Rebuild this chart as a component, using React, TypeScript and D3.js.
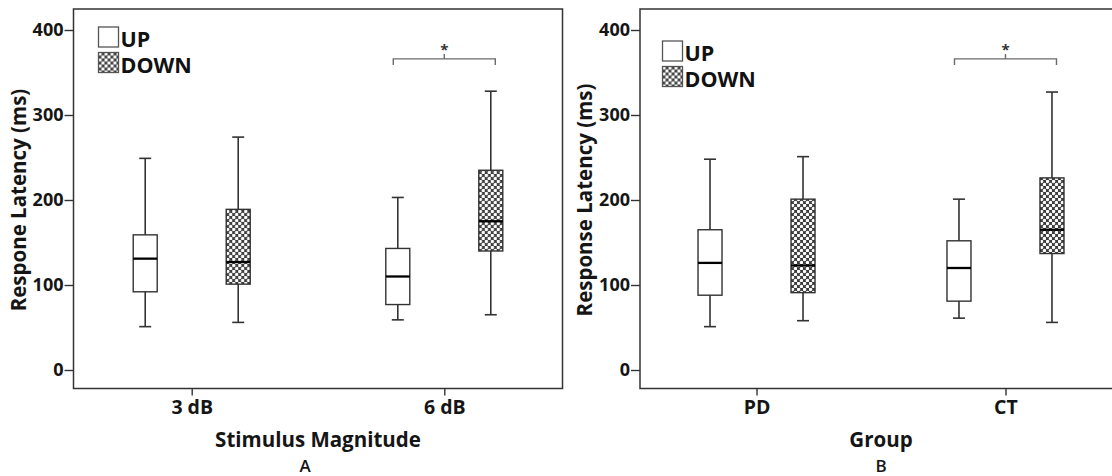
import React, { useEffect, useRef } from "react"
import * as d3 from "d3"

// [category, group, low whisker, Q1, median, Q3, high whisker]
const groups = ["UP", "DOWN"]
const categoriesA = ["3 dB", "6 dB"]
const statsA = [
  ["3 dB", "UP", 51, 92, 131, 159, 249],
  ["3 dB", "DOWN", 56, 101, 127, 189, 274],
  ["6 dB", "UP", 59, 77, 110, 143, 203],
  ["6 dB", "DOWN", 65, 140, 175, 235, 328],
]
const categoriesB = ["PD", "CT"]
const statsB = [
  ["PD", "UP", 51, 88, 126, 165, 248],
  ["PD", "DOWN", 58, 91, 123, 201, 251],
  ["CT", "UP", 61, 81, 120, 152, 201],
  ["CT", "DOWN", 56, 137, 165, 226, 327],
]
const yTicks = [0, 100, 200, 300, 400]
const significantA = "6 dB"
const significantB = "CT"

const FONT = "'Open Sans', sans-serif"
const INK = "#151515"
const LINE = "#333"

function drawPanel(svg, {
  left, // frame left
  width, // frame width
  categories,
  stats,
  significant,
  yLabel,
  xLabel,
  letter,
  letterX,
  legendX,
  legendY,
}) {
  const top = 9
  const bottom = 388.5
  const y = d3.scaleLinear().domain([0, 400]).range([370, 30])
  const x = d3.scalePoint().domain(categories).range([left, left + width]).padding(0.468)
  const sub = d3.scalePoint().domain(groups).range([-46.5, 46.5])
  const boxW = 24

  const g = svg.append("g")

  // frame
  g.append("rect")
    .attr("x", left).attr("y", top)
    .attr("width", width).attr("height", bottom - top)
    .attr("fill", "none").attr("stroke", LINE).attr("stroke-width", 1.5)

  // y axis
  g.append("g")
    .attr("transform", `translate(${left},0)`)
    .call(d3.axisLeft(y).tickValues(yTicks).tickSize(9).tickPadding(1))
    .call(a => a.select(".domain").remove())
    .call(a => a.selectAll(".tick line").attr("stroke", LINE).attr("stroke-width", 1.4))
    .call(a => a.selectAll(".tick text")
      .attr("font-family", FONT).attr("font-weight", 700)
      .attr("font-size", 18).attr("fill", INK))

  // x axis
  g.append("g")
    .attr("transform", `translate(0,${bottom})`)
    .call(d3.axisBottom(x).tickSize(7).tickPadding(5))
    .call(a => a.select(".domain").remove())
    .call(a => a.selectAll(".tick line").attr("stroke", LINE).attr("stroke-width", 1.4))
    .call(a => a.selectAll(".tick text")
      .attr("font-family", FONT).attr("font-weight", 700)
      .attr("font-size", 19.5).attr("fill", INK))

  // axis titles
  g.append("text")
    .attr("transform", `translate(${left - 55},${(y(0) + y(400)) / 2}) rotate(-90)`)
    .attr("text-anchor", "middle")
    .attr("dy", "0.35em")
    .attr("font-family", FONT).attr("font-weight", 700).attr("font-size", 20.5)
    .attr("fill", INK)
    .text(yLabel)

  const mid = (x(categories[0]) + x(categories[1])) / 2
  g.append("text")
    .attr("x", mid).attr("y", 447)
    .attr("text-anchor", "middle")
    .attr("font-family", FONT).attr("font-weight", 700).attr("font-size", 20.5)
    .attr("fill", INK)
    .text(xLabel)

  g.append("text")
    .attr("x", letterX).attr("y", 471.5)
    .attr("text-anchor", "middle")
    .attr("font-family", FONT).attr("font-weight", 600).attr("font-size", 17)
    .attr("fill", INK)
    .text(letter)

  // boxes
  const box = g.append("g")
    .selectAll("g")
    .data(stats)
    .join("g")
    .attr("transform", d => `translate(${x(d[0]) + sub(d[1])},0)`)

  box.append("line")
    .attr("y1", d => y(d[2])).attr("y2", d => y(d[6]))
    .attr("stroke", LINE).attr("stroke-width", 1.6)
  box.append("line")
    .attr("x1", -boxW / 4).attr("x2", boxW / 4)
    .attr("y1", d => y(d[6])).attr("y2", d => y(d[6]))
    .attr("stroke", LINE).attr("stroke-width", 1.6)
  box.append("line")
    .attr("x1", -boxW / 4).attr("x2", boxW / 4)
    .attr("y1", d => y(d[2])).attr("y2", d => y(d[2]))
    .attr("stroke", LINE).attr("stroke-width", 1.6)
  box.append("rect")
    .attr("x", -boxW / 2).attr("width", boxW)
    .attr("y", d => y(d[5])).attr("height", d => y(d[3]) - y(d[5]))
    .attr("fill", d => d[1] === "UP" ? "#fff" : "url(#hatch)")
    .attr("stroke", LINE).attr("stroke-width", 1.4)
  box.append("line")
    .attr("x1", -boxW / 2).attr("x2", boxW / 2)
    .attr("y1", d => y(d[4])).attr("y2", d => y(d[4]))
    .attr("stroke", "#000").attr("stroke-width", 2.3)

  // significance bracket
  const cx = x(significant)
  const by = y(366)
  g.append("path")
    .attr("d", `M${cx - 51},${by + 6}V${by}H${cx + 51}V${by + 6}M${cx},${by}V${by - 5}`)
    .attr("fill", "none").attr("stroke", "#6a6a6a").attr("stroke-width", 1.4)
  g.append("text")
    .attr("x", cx).attr("y", by - 4)
    .attr("text-anchor", "middle")
    .attr("font-family", FONT).attr("font-weight", 700).attr("font-size", 15)
    .attr("fill", "#333")
    .text("*")

  // legend
  const leg = g.append("g")
    .selectAll("g")
    .data(groups)
    .join("g")
    .attr("transform", (d, i) => `translate(${legendX},${legendY + i * 25.5})`)
  leg.append("rect")
    .attr("width", 20).attr("height", 20)
    .attr("fill", d => d === "UP" ? "#fff" : "url(#hatch)")
    .attr("stroke", "#555").attr("stroke-width", 1.3)
  leg.append("text")
    .attr("x", 22).attr("y", 20)
    .attr("font-family", FONT).attr("font-weight", 700).attr("font-size", 21.5)
    .attr("fill", "#111")
    .text(d => d)
}

export default function App() {
  const ref = useRef(null)

  useEffect(() => {
    const svg = d3.select(ref.current)
    svg.selectAll("*").remove()

    const defs = svg.append("defs")
    const pat = defs.append("pattern")
      .attr("id", "hatch")
      .attr("patternUnits", "userSpaceOnUse")
      .attr("width", 6).attr("height", 6)
    pat.append("rect").attr("width", 6).attr("height", 6).attr("fill", "#3c3c3c")
    pat.append("circle").attr("cx", 1.5).attr("cy", 1.5).attr("r", 1.75).attr("fill", "#fff")
    pat.append("circle").attr("cx", 4.5).attr("cy", 4.5).attr("r", 1.75).attr("fill", "#fff")

    drawPanel(svg, {
      left: 73.5, width: 489, categories: categoriesA, stats: statsA,
      significant: significantA, yLabel: "Respone Latency (ms)",
      xLabel: "Stimulus Magnitude", letter: "A", letterX: 305,
      legendX: 98.5, legendY: 27,
    })
    drawPanel(svg, {
      left: 640, width: 482, categories: categoriesB, stats: statsB,
      significant: significantB, yLabel: "Response Latency (ms)",
      xLabel: "Group", letter: "B", letterX: 881,
      legendX: 662.5, legendY: 41,
    })
  }, [])

  return (
    <svg ref={ref} width={1112} height={476}
      style={{ position: "absolute", left: 0, top: 0, background: "#fff" }} />
  )
}
